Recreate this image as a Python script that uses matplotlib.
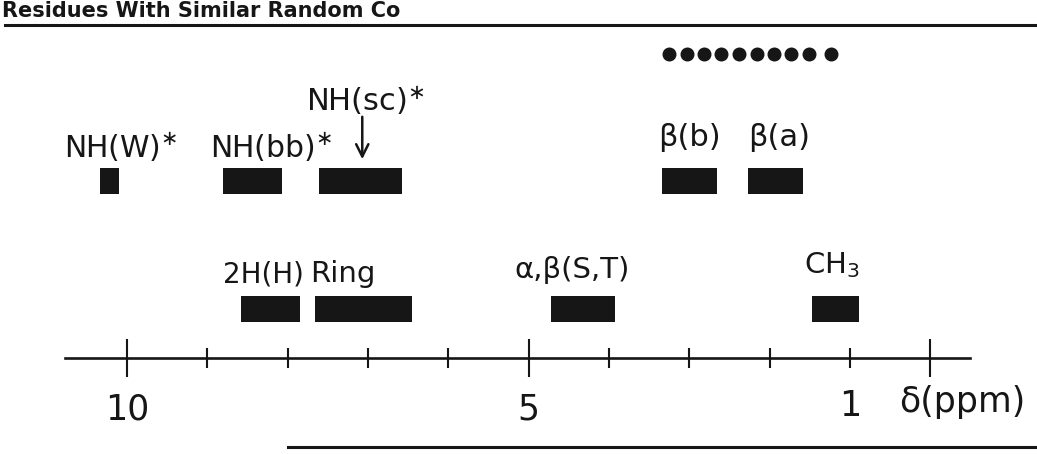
import matplotlib
matplotlib.use('Agg')
import matplotlib.pyplot as plt

# proton chemical shift ranges (ppm)
top_names = ['NH(W)', 'NH(bb)', 'NH(sc)', 'B(b)', 'B(a)']
top_lo = [10.10, 8.07, 6.58, 2.65, 1.58]
top_hi = [10.34, 8.80, 7.61, 3.34, 2.27]

bot_names = ['2H(H)', 'Ring', 'a,B(S,T)', 'CH3']
bot_lo = [7.85, 6.45, 3.92, 0.88]
bot_hi = [8.58, 7.66, 4.72, 1.47]

# row of dots above the beta groups
dot_ppm = [3.25, 3.03, 2.81, 2.60, 2.38, 2.16, 1.94, 1.73, 1.51, 1.23]

major_ticks = [10, 5, 0]
major_labels = ['10', '5', '']
minor_ticks = [9, 8, 7, 6, 4, 3, 2, 1]
minor_labels = ['', '', '', '', '', '', '', '1']

ink = '#161616'
plt.rcParams['font.family'] = ['DejaVu Sans']

fig = plt.figure(figsize=(10.37, 4.54), dpi=100)
ax = fig.add_axes([0, 0, 1, 1])
# x in ppm (reversed as in NMR), y in pixel rows from the top
ax.set_xlim(11.58, -1.33)
ax.set_ylim(454, 0)

ax.barh([181] * len(top_lo), [h - l for l, h in zip(top_lo, top_hi)],
        left=top_lo, height=26, color=ink)
ax.barh([309] * len(bot_lo), [h - l for l, h in zip(bot_lo, bot_hi)],
        left=bot_lo, height=26, color=ink)
ax.scatter(dot_ppm, [54] * len(dot_ppm), s=82, color=ink, zorder=3)

lab = dict(ha='center', va='baseline', color=ink)
ax.text(10.07, 158, r'NH(W)$^{\ast}$', fontsize=21.5, **lab)
ax.text(8.20, 158, r'NH(bb)$^{\ast}$', fontsize=21.5, **lab)
ax.text(7.03, 111, r'NH(sc)$^{\ast}$', fontsize=22, **lab)
ax.text(3.00, 146, 'β(b)', fontsize=22, **lab)
ax.text(1.88, 146, 'β(a)', fontsize=22, **lab)
ax.text(8.30, 282, '2H(H)', fontsize=20, **lab)
ax.text(7.31, 282, 'Ring', fontsize=21, **lab)
ax.text(4.46, 278, 'α,β(S,T)', fontsize=21, **lab)
ax.text(1.22, 273, r'CH$_3$', fontsize=21, **lab)
ax.annotate('', xy=(7.07, 162), xytext=(7.07, 114),
            arrowprops=dict(arrowstyle='->', color=ink, lw=1.8,
                            mutation_scale=22))

# shift axis
for s in ['top', 'left', 'right']:
    ax.spines[s].set_visible(False)
ax.spines['bottom'].set_position(('data', 358))
ax.spines['bottom'].set_bounds(10.77, -0.50)
ax.spines['bottom'].set_linewidth(1.9)
ax.spines['bottom'].set_color(ink)
ax.set_yticks([])
ax.set_xticks(major_ticks, major_labels)
ax.set_xticks(minor_ticks, minor_labels, minor=True)
ax.tick_params(axis='x', which='major', direction='inout', length=28,
               width=1.5, color=ink, labelsize=25, labelcolor=ink, pad=11)
ax.tick_params(axis='x', which='minor', direction='inout', length=15,
               width=1.5, color=ink, labelsize=25, labelcolor=ink, pad=15)
ax.text(-0.40, 402, 'δ(ppm)', fontsize=25, ha='center', va='center', color=ink)

# page rules and the caption above
ax.plot([11.52, -1.33], [25, 25], color=ink, lw=2.2, clip_on=False)
ax.plot([8.00, -1.33], [447, 447], color=ink, lw=2.2, clip_on=False)
ax.text(11.56, 1, 'Residues With Similar Random Co', fontsize=15,
        fontweight='bold', ha='left', va='top', color=ink)

fig.savefig('out.png', dpi=100)
